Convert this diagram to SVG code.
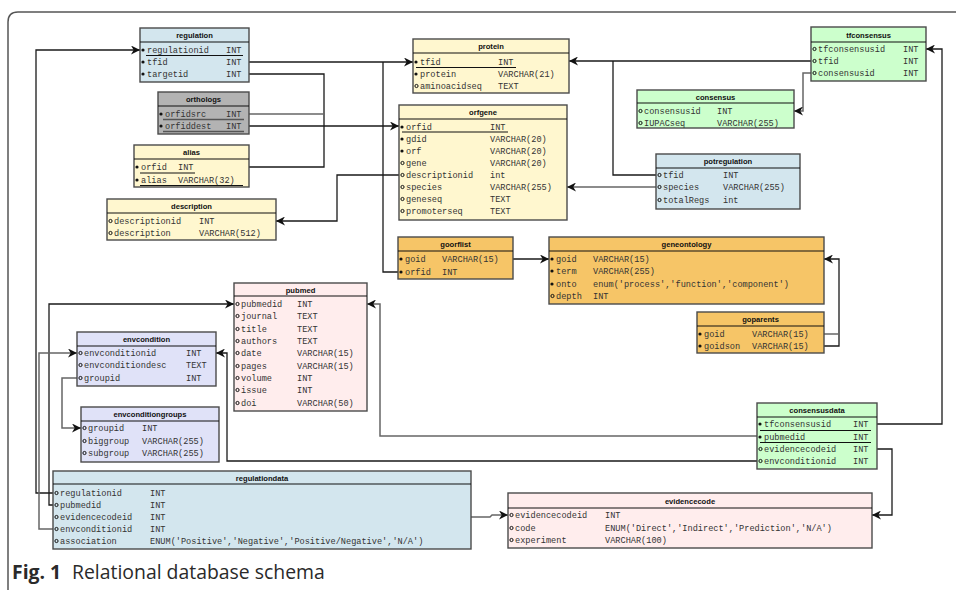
<svg xmlns="http://www.w3.org/2000/svg" width="956" height="590" viewBox="0 0 956 590">
<style>
.bx{stroke:#4a4a4a;stroke-width:1.4}
.blue{fill:#d3e6ee}.gray{fill:#b3b3b3}.yel{fill:#fff7cf}.grn{fill:#ccffcc}.org{fill:#f6c567}.pink{fill:#ffeded}.lav{fill:#e0e2f8}
.hl{stroke:#111;stroke-width:1.2}
.t{font-family:"Liberation Sans",Arial,sans-serif;font-size:7.6px;font-weight:bold;fill:#111;text-anchor:middle}
.f{font-family:"Liberation Mono","Courier New",monospace;font-size:8.6px;fill:#333}
.k{fill:#111}
.o{fill:none;stroke:#111;stroke-width:1}
.u{stroke:#111;stroke-width:1}
.ug{stroke:#555;stroke-width:1.6}
.c{fill:none;stroke:#1a1a1a;stroke-width:1.3}
.cg{fill:none;stroke:#666;stroke-width:1.5}
.cap{font-family:"Open Sans","Liberation Sans",sans-serif;font-size:19.4px;fill:#2a2a2a}
</style>
<defs>
<marker id="ar" viewBox="0 0 10 10" refX="10" refY="5" markerWidth="9" markerHeight="9" markerUnits="userSpaceOnUse" orient="auto">
<path d="M0,0 L10,5 L0,10 L3,5 Z" fill="#111"/>
</marker>
</defs>
<path d="M8 590 V22 Q8 12 18 12 H956" fill="none" stroke="#555" stroke-width="1.5"/>

<g id="connectors">
<path class="c" d="M249,62 H413" marker-end="url(#ar)"/>
<path class="c" d="M398,272 H383 V62"/>
<path class="c" d="M249,74 H324 V167 H249"/>
<path class="cg" d="M249,114 H324"/>
<path class="c" d="M249,126 H399" marker-end="url(#ar)"/>
<path class="c" d="M811,61 H569" marker-end="url(#ar)"/>
<path class="c" d="M656,175 H613 V61"/>
<path class="cg" d="M811,73 H803 V111 H794" marker-end="url(#ar)"/>
<path class="cg" d="M656,187 H567" marker-end="url(#ar)"/>
<path class="c" d="M399,175 H337 V221 H276" marker-end="url(#ar)"/>
<path class="c" d="M513,259 H549" marker-end="url(#ar)"/>
<path class="c" d="M824,346 H839 V259 H824" marker-end="url(#ar)"/>
<path class="cg" d="M824,334 H839"/>
<path class="c" d="M877,424 H942 V49 H926" marker-end="url(#ar)"/>
<path class="c" d="M877,449 H892 V515 H872" marker-end="url(#ar)"/>
<path class="cg" d="M757,436 H380 V304 H367" marker-end="url(#ar)"/>
<path class="c" d="M757,461 H227 V353 H216" marker-end="url(#ar)"/>
<path class="c" d="M53,493 H36 V50 H140" marker-end="url(#ar)"/>
<path class="c" d="M53,505 H49 V304 H234" marker-end="url(#ar)"/>
<path class="cg" d="M53,529 H39 V353 H77" marker-end="url(#ar)"/>
<path class="cg" d="M77,378 H62 V428 H81" marker-end="url(#ar)"/>
<path class="cg" d="M471,517 H490 L492,515 H508" marker-end="url(#ar)"/>
</g>

<g id="regulation">
<rect class="bx blue" x="140" y="28" width="109" height="54"/>
<line class="hl" x1="140" y1="42" x2="249" y2="42"/>
<text class="t" x="194.5" y="38">regulation</text>
<circle class="k" cx="143" cy="50" r="1.6"/><text class="f" x="147" y="53">regulationid</text><text class="f" x="226" y="53">INT</text>
<line class="u" x1="146" y1="55.5" x2="243" y2="55.5"/>
<circle class="k" cx="143" cy="62" r="1.6"/><text class="f" x="147" y="65">tfid</text><text class="f" x="226" y="65">INT</text>
<circle class="k" cx="143" cy="74" r="1.6"/><text class="f" x="147" y="77">targetid</text><text class="f" x="226" y="77">INT</text>
</g>

<g id="orthologs">
<rect class="bx gray" x="158" y="92" width="91" height="42"/>
<line class="hl" x1="158" y1="106" x2="249" y2="106"/>
<text class="t" x="203.5" y="102">orthologs</text>
<circle class="k" cx="161" cy="114" r="1.6"/><text class="f" x="165" y="117">orfidsrc</text><text class="f" x="226" y="117">INT</text>
<line class="ug" x1="163" y1="119.5" x2="244" y2="119.5"/>
<circle class="k" cx="161" cy="126" r="1.6"/><text class="f" x="165" y="129">orfiddest</text><text class="f" x="226" y="129">INT</text>
<line class="ug" x1="163" y1="131.5" x2="244" y2="131.5"/>
</g>

<g id="alias">
<rect class="bx yel" x="134" y="145" width="115" height="42"/>
<line class="hl" x1="134" y1="159" x2="249" y2="159"/>
<text class="t" x="191.5" y="155">alias</text>
<circle class="k" cx="137" cy="167" r="1.6"/><text class="f" x="141" y="170">orfid</text><text class="f" x="178" y="170">INT</text>
<line class="u" x1="140" y1="173" x2="195" y2="173"/>
<circle class="k" cx="137" cy="180" r="1.6"/><text class="f" x="141" y="183">alias</text><text class="f" x="178" y="183">VARCHAR(32)</text>
<line class="u" x1="140" y1="185.5" x2="243" y2="185.5"/>
</g>

<g id="description">
<rect class="bx yel" x="107" y="199" width="169" height="41"/>
<line class="hl" x1="107" y1="213" x2="276" y2="213"/>
<text class="t" x="191.5" y="209">description</text>
<circle class="o" cx="110.5" cy="221" r="1.6"/><text class="f" x="114" y="224">descriptionid</text><text class="f" x="199" y="224">INT</text>
<circle class="o" cx="110.5" cy="233" r="1.6"/><text class="f" x="114" y="236">description</text><text class="f" x="199" y="236">VARCHAR(512)</text>
</g>

<g id="protein">
<rect class="bx yel" x="413" y="39" width="156" height="54"/>
<line class="hl" x1="413" y1="53" x2="569" y2="53"/>
<text class="t" x="491" y="49">protein</text>
<circle class="k" cx="416" cy="62" r="1.6"/><text class="f" x="420" y="65">tfid</text><text class="f" x="498" y="65">INT</text>
<line class="u" x1="416" y1="67.5" x2="516" y2="67.5"/>
<circle class="k" cx="416" cy="74" r="1.6"/><text class="f" x="420" y="77">protein</text><text class="f" x="498" y="77">VARCHAR(21)</text>
<circle class="o" cx="416.5" cy="86" r="1.6"/><text class="f" x="420" y="89">aminoacidseq</text><text class="f" x="498" y="89">TEXT</text>
</g>

<g id="orfgene">
<rect class="bx yel" x="399" y="105" width="168" height="115"/>
<line class="hl" x1="399" y1="119" x2="567" y2="119"/>
<text class="t" x="483" y="115">orfgene</text>
<circle class="k" cx="402" cy="127" r="1.6"/><text class="f" x="406" y="130">orfid</text><text class="f" x="490" y="130">INT</text>
<line class="u" x1="402" y1="132" x2="508" y2="132"/>
<circle class="k" cx="402" cy="139" r="1.6"/><text class="f" x="406" y="142">gdid</text><text class="f" x="490" y="142">VARCHAR(20)</text>
<circle class="k" cx="402" cy="151" r="1.6"/><text class="f" x="406" y="154">orf</text><text class="f" x="490" y="154">VARCHAR(20)</text>
<circle class="o" cx="402.5" cy="163" r="1.6"/><text class="f" x="406" y="166">gene</text><text class="f" x="490" y="166">VARCHAR(20)</text>
<circle class="o" cx="402.5" cy="175" r="1.6"/><text class="f" x="406" y="178">descriptionid</text><text class="f" x="490" y="178">int</text>
<circle class="o" cx="402.5" cy="187" r="1.6"/><text class="f" x="406" y="190">species</text><text class="f" x="490" y="190">VARCHAR(255)</text>
<circle class="o" cx="402.5" cy="199" r="1.6"/><text class="f" x="406" y="202">geneseq</text><text class="f" x="490" y="202">TEXT</text>
<circle class="o" cx="402.5" cy="211" r="1.6"/><text class="f" x="406" y="214">promoterseq</text><text class="f" x="490" y="214">TEXT</text>
</g>

<g id="tfconsensus">
<rect class="bx grn" x="811" y="27" width="115" height="54"/>
<line class="hl" x1="811" y1="42" x2="926" y2="42"/>
<text class="t" x="868.5" y="37.5">tfconsensus</text>
<circle class="o" cx="814.5" cy="49" r="1.6"/><text class="f" x="818" y="52">tfconsensusid</text><text class="f" x="903" y="52">INT</text>
<circle class="o" cx="814.5" cy="61" r="1.6"/><text class="f" x="818" y="64">tfid</text><text class="f" x="903" y="64">INT</text>
<circle class="o" cx="814.5" cy="73" r="1.6"/><text class="f" x="818" y="76">consensusid</text><text class="f" x="903" y="76">INT</text>
</g>

<g id="consensus">
<rect class="bx grn" x="637" y="90" width="157" height="38"/>
<line class="hl" x1="637" y1="103" x2="794" y2="103"/>
<text class="t" x="715.5" y="99.5">consensus</text>
<circle class="o" cx="640.5" cy="111" r="1.6"/><text class="f" x="644" y="114">consensusid</text><text class="f" x="717" y="114">INT</text>
<circle class="o" cx="640.5" cy="123" r="1.6"/><text class="f" x="644" y="126">IUPACseq</text><text class="f" x="717" y="126">VARCHAR(255)</text>
</g>

<g id="potregulation">
<rect class="bx blue" x="656" y="154" width="144" height="55"/>
<line class="hl" x1="656" y1="168" x2="800" y2="168"/>
<text class="t" x="728" y="164">potregulation</text>
<circle class="o" cx="659.5" cy="175" r="1.6"/><text class="f" x="663" y="178">tfid</text><text class="f" x="723" y="178">INT</text>
<circle class="o" cx="659.5" cy="187" r="1.6"/><text class="f" x="663" y="190">species</text><text class="f" x="723" y="190">VARCHAR(255)</text>
<circle class="o" cx="659.5" cy="200" r="1.6"/><text class="f" x="663" y="203">totalRegs</text><text class="f" x="723" y="203">int</text>
</g>

<g id="goorflist">
<rect class="bx org" x="398" y="237" width="115" height="42"/>
<line class="hl" x1="398" y1="251" x2="513" y2="251"/>
<text class="t" x="455.5" y="247">goorflist</text>
<circle class="k" cx="401" cy="259" r="1.6"/><text class="f" x="405" y="262">goid</text><text class="f" x="442" y="262">VARCHAR(15)</text>
<circle class="k" cx="401" cy="272" r="1.6"/><text class="f" x="405" y="275">orfid</text><text class="f" x="442" y="275">INT</text>
</g>

<g id="geneontology">
<rect class="bx org" x="549" y="237" width="275" height="67"/>
<line class="hl" x1="549" y1="251" x2="824" y2="251"/>
<text class="t" x="686.5" y="247">geneontology</text>
<circle class="k" cx="552" cy="259" r="1.6"/><text class="f" x="556" y="262">goid</text><text class="f" x="593" y="262">VARCHAR(15)</text>
<circle class="k" cx="552" cy="271" r="1.6"/><text class="f" x="556" y="274">term</text><text class="f" x="593" y="274">VARCHAR(255)</text>
<circle class="k" cx="552" cy="284" r="1.6"/><text class="f" x="556" y="287">onto</text><text class="f" x="593" y="287">enum('process','function','component')</text>
<circle class="o" cx="552.5" cy="296" r="1.6"/><text class="f" x="556" y="299">depth</text><text class="f" x="593" y="299">INT</text>
</g>

<g id="goparents">
<rect class="bx org" x="697" y="312" width="127" height="41"/>
<line class="hl" x1="697" y1="326" x2="824" y2="326"/>
<text class="t" x="760.5" y="322">goparents</text>
<circle class="k" cx="700" cy="334" r="1.6"/><text class="f" x="704" y="337">goid</text><text class="f" x="752" y="337">VARCHAR(15)</text>
<circle class="k" cx="700" cy="346" r="1.6"/><text class="f" x="704" y="349">goidson</text><text class="f" x="752" y="349">VARCHAR(15)</text>
</g>

<g id="pubmed">
<rect class="bx pink" x="234" y="283" width="133" height="128"/>
<line class="hl" x1="234" y1="296" x2="367" y2="296"/>
<text class="t" x="300.5" y="292.5">pubmed</text>
<circle class="o" cx="237.5" cy="304" r="1.6"/><text class="f" x="241" y="307">pubmedid</text><text class="f" x="297" y="307">INT</text>
<circle class="o" cx="237.5" cy="316" r="1.6"/><text class="f" x="241" y="319">journal</text><text class="f" x="297" y="319">TEXT</text>
<circle class="o" cx="237.5" cy="329" r="1.6"/><text class="f" x="241" y="332">title</text><text class="f" x="297" y="332">TEXT</text>
<circle class="o" cx="237.5" cy="341" r="1.6"/><text class="f" x="241" y="344">authors</text><text class="f" x="297" y="344">TEXT</text>
<circle class="o" cx="237.5" cy="353" r="1.6"/><text class="f" x="241" y="356">date</text><text class="f" x="297" y="356">VARCHAR(15)</text>
<circle class="o" cx="237.5" cy="366" r="1.6"/><text class="f" x="241" y="369">pages</text><text class="f" x="297" y="369">VARCHAR(15)</text>
<circle class="o" cx="237.5" cy="378" r="1.6"/><text class="f" x="241" y="381">volume</text><text class="f" x="297" y="381">INT</text>
<circle class="o" cx="237.5" cy="390" r="1.6"/><text class="f" x="241" y="393">issue</text><text class="f" x="297" y="393">INT</text>
<circle class="o" cx="237.5" cy="403" r="1.6"/><text class="f" x="241" y="406">doi</text><text class="f" x="297" y="406">VARCHAR(50)</text>
</g>

<g id="envcondition">
<rect class="bx lav" x="77" y="332" width="139" height="54"/>
<line class="hl" x1="77" y1="346" x2="216" y2="346"/>
<text class="t" x="146.5" y="342">envcondition</text>
<circle class="o" cx="80.5" cy="353" r="1.6"/><text class="f" x="84" y="356">envconditionid</text><text class="f" x="186" y="356">INT</text>
<circle class="o" cx="80.5" cy="365" r="1.6"/><text class="f" x="84" y="368">envconditiondesc</text><text class="f" x="186" y="368">TEXT</text>
<circle class="o" cx="80.5" cy="378" r="1.6"/><text class="f" x="84" y="381">groupid</text><text class="f" x="186" y="381">INT</text>
</g>

<g id="envconditiongroups">
<rect class="bx lav" x="81" y="407" width="138" height="55"/>
<line class="hl" x1="81" y1="421" x2="219" y2="421"/>
<text class="t" x="150" y="417">envconditiongroups</text>
<circle class="o" cx="84.5" cy="428" r="1.6"/><text class="f" x="88" y="431">groupid</text><text class="f" x="142" y="431">INT</text>
<circle class="o" cx="84.5" cy="441" r="1.6"/><text class="f" x="88" y="444">biggroup</text><text class="f" x="142" y="444">VARCHAR(255)</text>
<circle class="o" cx="84.5" cy="453" r="1.6"/><text class="f" x="88" y="456">subgroup</text><text class="f" x="142" y="456">VARCHAR(255)</text>
</g>

<g id="consensusdata">
<rect class="bx grn" x="757" y="403" width="120" height="66"/>
<line class="hl" x1="757" y1="417" x2="877" y2="417"/>
<text class="t" x="817" y="413">consensusdata</text>
<circle class="k" cx="760" cy="424" r="1.6"/><text class="f" x="764" y="427">tfconsensusid</text><text class="f" x="853" y="427">INT</text>
<line class="u" x1="760" y1="430.5" x2="871" y2="430.5"/>
<circle class="k" cx="760" cy="437" r="1.6"/><text class="f" x="764" y="440">pubmedid</text><text class="f" x="853" y="440">INT</text>
<line class="u" x1="760" y1="442.5" x2="871" y2="442.5"/>
<circle class="o" cx="760.5" cy="449" r="1.6"/><text class="f" x="764" y="452">evidencecodeid</text><text class="f" x="853" y="452">INT</text>
<circle class="o" cx="760.5" cy="461" r="1.6"/><text class="f" x="764" y="464">envconditionid</text><text class="f" x="853" y="464">INT</text>
</g>

<g id="regulationdata">
<rect class="bx blue" x="53" y="471" width="418" height="78"/>
<line class="hl" x1="53" y1="484" x2="471" y2="484"/>
<text class="t" x="262" y="480.5">regulationdata</text>
<circle class="o" cx="56.5" cy="493" r="1.6"/><text class="f" x="60" y="496">regulationid</text><text class="f" x="150" y="496">INT</text>
<circle class="o" cx="56.5" cy="505" r="1.6"/><text class="f" x="60" y="508">pubmedid</text><text class="f" x="150" y="508">INT</text>
<circle class="o" cx="56.5" cy="517" r="1.6"/><text class="f" x="60" y="520">evidencecodeid</text><text class="f" x="150" y="520">INT</text>
<circle class="o" cx="56.5" cy="529" r="1.6"/><text class="f" x="60" y="532">envconditionid</text><text class="f" x="150" y="532">INT</text>
<circle class="o" cx="56.5" cy="541" r="1.6"/><text class="f" x="60" y="544">association</text><text class="f" x="150" y="544">ENUM('Positive','Negative','Positive/Negative','N/A')</text>
</g>

<g id="evidencecode">
<rect class="bx pink" x="508" y="493" width="364" height="55"/>
<line class="hl" x1="508" y1="508" x2="872" y2="508"/>
<text class="t" x="690" y="503.5">evidencecode</text>
<circle class="o" cx="511.5" cy="515" r="1.6"/><text class="f" x="515" y="518">evidencecodeid</text><text class="f" x="605" y="518">INT</text>
<circle class="o" cx="511.5" cy="528" r="1.6"/><text class="f" x="515" y="531">code</text><text class="f" x="605" y="531">ENUM('Direct','Indirect','Prediction','N/A')</text>
<circle class="o" cx="511.5" cy="540" r="1.6"/><text class="f" x="515" y="543">experiment</text><text class="f" x="605" y="543">VARCHAR(100)</text>
</g>

<text class="cap" y="579"><tspan x="12" font-weight="bold">Fig. 1</tspan><tspan x="72">Relational database schema</tspan></text>
</svg>
